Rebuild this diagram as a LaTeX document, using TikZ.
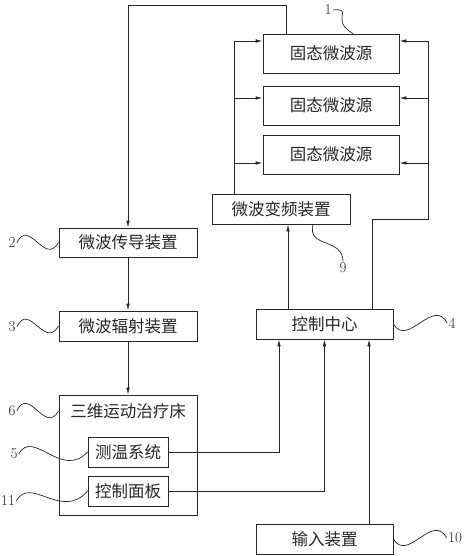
\documentclass[tikz,border=0pt]{standalone}
\usepackage{fontspec}
\newfontfamily\cjk{Noto Sans CJK SC}
\usetikzlibrary{arrows.meta}
\def\leader(#1)(#2)(#3)(#4){\draw[lead] (#1) .. controls +(#3) and +(#4) .. (#2);}

\begin{document}
\begin{tikzpicture}[x=1pt, y=-1pt,
		line width=0.8pt, color=black!85,
		box/.style={draw, font=\cjk\fontsize{16.5}{19}\selectfont, inner sep=0pt},
		num/.style={font=\fontsize{15}{17}\selectfont, inner sep=1pt},
		lead/.style={line width=0.7pt},
		arr/.style={-{Latex[length=7pt, width=3.5pt]}}]
			%%%%% START %%%%%
			
			\useasboundingbox (0, 0) rectangle (465, 556);
			
			\node[box, minimum width=136, minimum height=39] (src1) at (331, 53.5) {固态微波源};
			\node[box, minimum width=136, minimum height=39] (src2) at (331, 105.5) {固态微波源};
			\node[box, minimum width=136, minimum height=39] (src3) at (331, 154.5) {固态微波源};
			\node[box, minimum width=138, minimum height=30] (freq) at (281, 209) {微波变频装置};
			\node[box, minimum width=138, minimum height=29] (guide) at (128, 242.5) {微波传导装置};
			\node[box, minimum width=138, minimum height=30] (rad) at (128, 326) {微波辐射装置};
			\node[box, minimum width=137, minimum height=30] (ctrl) at (324.5, 324) {控制中心};
			\node[draw, minimum width=138, minimum height=120] (bed) at (128, 455) {};
			\node[font=\cjk\fontsize{16.5}{19}\selectfont] (bedtxt) at (128, 411) {三维运动治疗床};
			\node[box, minimum width=80, minimum height=30] (temp) at (128, 452) {测温系统};
			\node[box, minimum width=80, minimum height=30] (panel) at (128, 491) {控制面板};
			\node[box, minimum width=137, minimum height=30] (input) at (324.5, 539) {输入装置};
			
			\node[num] (n1) at (328, 10) {1};
			\node[num] (n2) at (12, 243) {2};
			\node[num] (n3) at (12, 327) {3};
			\node[num] (n4) at (452, 323) {4};
			\node[num] (n5) at (14, 454) {5};
			\node[num] (n6) at (12, 411) {6};
			\node[num] (n9) at (343, 268) {9};
			\node[num] (n10) at (455, 538) {10};
			\node[num] (n11) at (8, 501) {11};
			
			% source -> guide
			\draw[arr] (src1.north -| 286,0) -- (286, 5) -| (guide.north);
			\draw[arr] (guide) -- (rad);
			\draw[arr] (rad) -- (bed);
			
			% converter bus
			\draw (freq.north -| 234,0) -- (234, 41);
			\draw[arr] (234, 41) -- (src1.west |- 0,41);
			\draw[arr] (234, 98) -- (src2.west |- 0,98);
			\draw[arr] (234, 163) -- (src3.west |- 0,163);
			
			% control bus
			\draw (ctrl.north -| 372,0) |- (428, 219) -- (428, 41);
			\draw[arr] (428, 41) -- (src1.east |- 0,41);
			\draw[arr] (428, 98) -- (src2.east |- 0,98);
			\draw[arr] (428, 163) -- (src3.east |- 0,163);
			\draw[arr] (ctrl.north -| 288,0) -- (freq.south -| 288,0);
			
			\draw[arr] (temp.east) -| (ctrl.south -| 279,0);
			\draw[arr] (panel.east) -| (ctrl.south);
			\draw[arr] (input.north -| 369,0) -- (ctrl.south -| 369,0);
			
			% leaders
			\leader(n1.east)(src1.north -| 353,0)(22,-2)(-24,-14)
			\leader(n2.east)(guide.west)(12,-26)(-14,24)
			\leader(n3.east)(rad.west)(12,-26)(-14,24)
			\leader(n6.east)(bed.west |- 0,411)(12,-26)(-14,24)
			\leader(n5.east)(temp.west)(14,-26)(-26,28)
			\leader(n11.east)(panel.west)(14,-26)(-26,30)
			\leader(n4.west)(ctrl.east)(-14,-26)(14,24)
			\leader(n10.west)(input.east)(-14,-26)(14,24)
			\leader(freq.south -| 313,0)(n9.north)(-6,24)(0,-24)
			
			%%%%% END %%%%%
		\end{tikzpicture}
\end{document}
